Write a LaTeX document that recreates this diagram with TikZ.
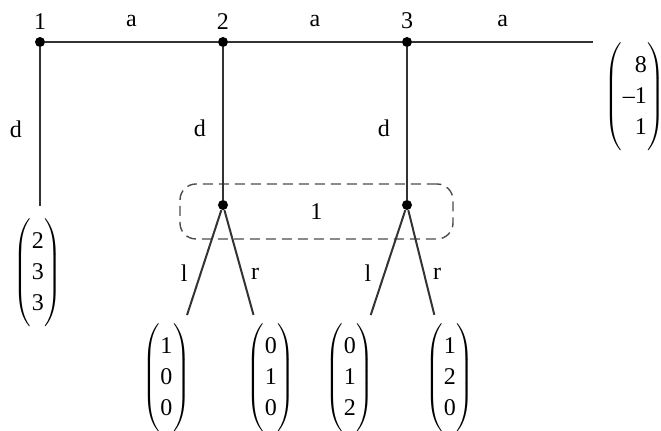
\documentclass[tikz,border=0pt]{standalone}
\usepackage{fontspec}
\setmainfont{Liberation Serif}
\usetikzlibrary{positioning}

\renewcommand{\arraystretch}{1.07}
\newcommand{\payvec}[3]{$\delimitershortfall=-3pt\left(\begin{tabular}{@{\hspace{0.5pt}}r@{\hspace{0.5pt}}}#1\\#2\\#3\end{tabular}\right)$}

\begin{document}
\begin{tikzpicture}[
            x=0.5pt, y=-0.5pt,
            every node/.style={font=\fontsize{12}{14.5}\selectfont},
            decision/.style={circle, fill=black, inner sep=0pt, minimum size=5pt},
            payoff/.style={inner sep=0pt},
            edge/.style={line width=1pt, draw=black!80}
                           ]
            \useasboundingbox (0,0) rectangle (661,431);

            % 1. Decision nodes along the top and the end of the last move
            \node[decision] (dec_1) at (40,42) {};
            \node[decision] (dec_2) at (223,42) {};
            \node[decision] (dec_3) at (407,42) {};
            \coordinate (top_end) at (593,42);
            \node[above=3.5pt of dec_1, inner sep=0pt] (stage_1) {1};
            \node[above=3.5pt of dec_2, inner sep=0pt] (stage_2) {2};
            \node[above=3.5pt of dec_3, inner sep=0pt] (stage_3) {3};

            % 2. The information set of player 1 with its two nodes
            \node[draw=black!70, dash pattern=on 5pt off 3pt, line width=0.7pt, rounded corners=8pt,
                  minimum width=136.5pt, minimum height=27.5pt] (info_1) at (316.5,211.5) {1};
            \node[decision] (mid_2) at (223,205) {};
            \node[decision] (mid_3) at (407,205) {};

            % 3. Payoff vectors
            \node[payoff] (leaf_233) at (38,273) {\payvec{2}{3}{3}};
            \node[payoff] (leaf_100) at (166.5,378) {\payvec{1}{0}{0}};
            \node[payoff] (leaf_010) at (271,378) {\payvec{0}{1}{0}};
            \node[payoff] (leaf_012) at (350,378) {\payvec{0}{1}{2}};
            \node[payoff] (leaf_120) at (450,378) {\payvec{1}{2}{0}};
            \node[payoff] (leaf_811) at (635,97) {\payvec{8}{--1}{1}};

            % 4. Moves a across the top
            \draw[edge] (dec_1) -- node[above=7pt, inner sep=0pt] (act_a1) {a} (dec_2);
            \draw[edge] (dec_2) -- node[above=7pt, inner sep=0pt] (act_a2) {a} (dec_3);
            \draw[edge] (dec_3) -- node[above=7pt, inner sep=0pt] (act_a3) {a} (top_end);

            % 5. Moves d down
            \draw[edge, shorten >=6.5pt] (dec_1) -- node[pos=0.48, left=8.5pt, inner sep=0pt] (act_d1) {d} (dec_1 |- leaf_233.north);
            \draw[edge] (dec_2) -- node[pos=0.53, left=8pt, inner sep=0pt] (act_d2) {d} (mid_2);
            \draw[edge] (dec_3) -- node[pos=0.53, left=8pt, inner sep=0pt] (act_d3) {d} (mid_3);

            % 6. Moves l and r to the payoffs
            \draw[edge, shorten >=4.5pt] (mid_2) -- node[pos=0.56, left=6pt, inner sep=0pt] (act_l2) {l} (leaf_100);
            \draw[edge, shorten >=4.5pt] (mid_2) -- node[pos=0.56, right=4pt, inner sep=0pt] (act_r2) {r} (leaf_010);
            \draw[edge, shorten >=4.5pt] (mid_3) -- node[pos=0.56, left=6pt, inner sep=0pt] (act_l3) {l} (leaf_012);
            \draw[edge, shorten >=4.5pt] (mid_3) -- node[pos=0.56, right=4pt, inner sep=0pt] (act_r3) {r} (leaf_120);

        \end{tikzpicture}
\end{document}
